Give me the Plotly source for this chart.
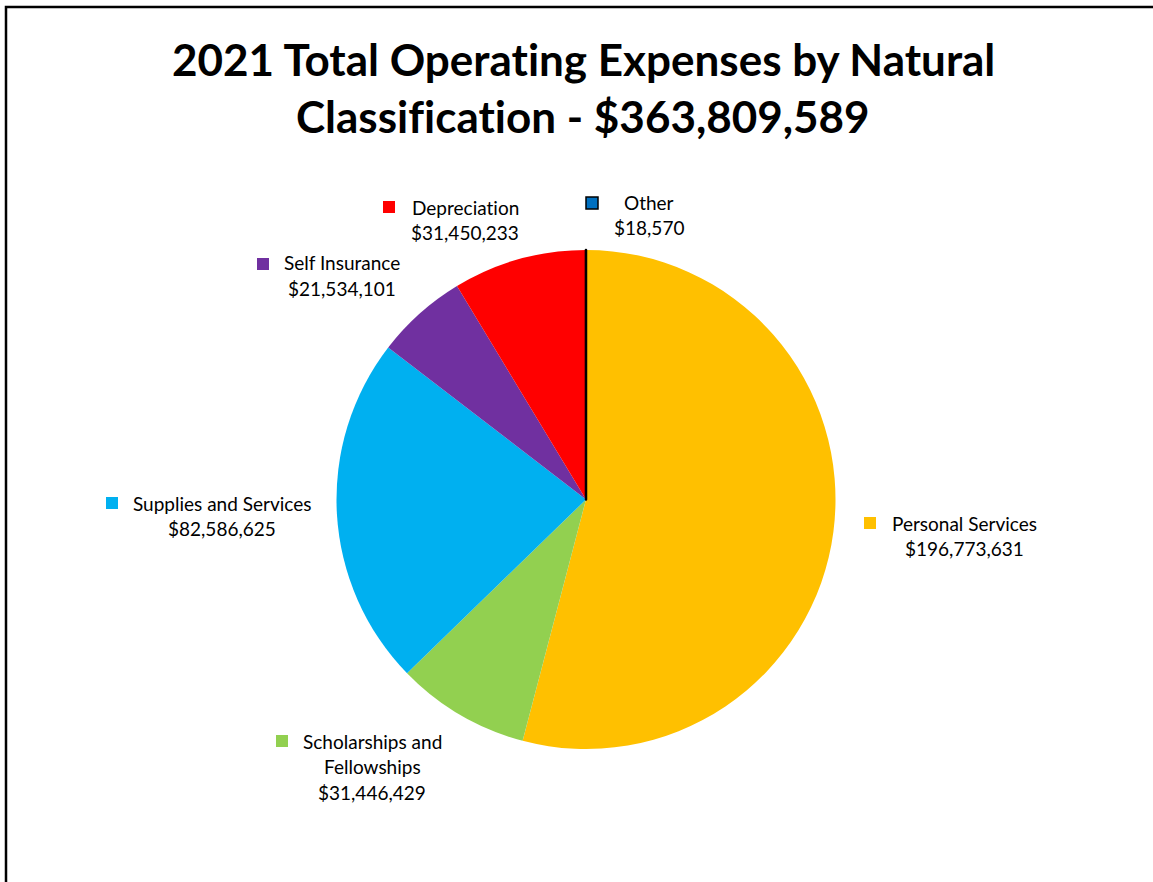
import plotly.graph_objects as go

categories = ["Personal Services", "Scholarships and Fellowships", "Supplies and Services",
              "Self Insurance", "Depreciation", "Other"]
values = [196773631, 31446429, 82586625, 21534101, 31450233, 18570]
colors = ["#FFC000", "#92D050", "#00B0F0", "#7030A0", "#FF0000", "#0070C0"]
label_lines = [["Personal Services"], ["Scholarships and", "Fellowships"], ["Supplies and Services"],
               ["Self Insurance"], ["Depreciation"], ["Other"]]
title_lines = ["2021 Total Operating Expenses by Natural", "Classification - $363,809,589"]

W, H = 1153, 882
def px(x): return x / W
def py(y): return 1 - y / H

FONT = "Lato"
ZWNJ = "\u200c"
def noliga(s):
    # keep "ti" / "fi" from forming ligatures
    return s.replace("ti", "t" + ZWNJ + "i").replace("fi", "f" + ZWNJ + "i")

fig = go.Figure(go.Pie(
    labels=categories, values=values, sort=False, direction="clockwise", rotation=0,
    marker=dict(colors=colors,
                line=dict(color=["rgba(0,0,0,0)"] * 5 + ["#000000"], width=[0, 0, 0, 0, 0, 2.5])),
    textinfo="none", hoverinfo="label+value+percent", showlegend=False,
    domain=dict(x=[px(336), px(836)], y=[py(749), py(250)]),
))

# label layout: (key center x, key center y, text center x, first line center y)
label_pos = [
    (870, 523, 964, 523),
    (282, 741, 372, 741),
    (112, 503, 222, 503),
    (263, 264, 342, 263),
    (389, 207, 465, 207),
    (592, 203, 649, 202),
]
LINE = 25.5
annotations = []
shapes = []
for i, (name, val) in enumerate(zip(categories, values)):
    kx, ky, tx, ty = label_pos[i]
    lines = label_lines[i] + ["${:,}".format(val)]
    for j, ln in enumerate(lines):
        annotations.append(dict(x=px(tx), y=py(ty + j * LINE), xref="paper", yref="paper",
                                text=noliga(ln), showarrow=False, xanchor="center", yanchor="middle",
                                font=dict(family=FONT, size=19, color="#000000")))
    s = 6
    shapes.append(dict(type="rect", xref="paper", yref="paper",
                       x0=px(kx - s), x1=px(kx + s), y0=py(ky + s), y1=py(ky - s),
                       fillcolor=colors[i],
                       line=dict(color="#000000" if name == "Other" else colors[i],
                                 width=1.5 if name == "Other" else 0)))

for j, t in enumerate(title_lines):
    annotations.append(dict(x=px(583), y=py(59 + j * 57), xref="paper", yref="paper",
                            text="<b>" + noliga(t) + "</b>", showarrow=False, xanchor="center",
                            yanchor="middle",
                            font=dict(family=FONT, size=44, color="#000000")))

# outer frame
shapes.append(dict(type="rect", xref="paper", yref="paper", x0=px(6), y0=py(H + 20), x1=px(W + 20), y1=py(7),
                   line=dict(color="#000000", width=2.5), fillcolor="rgba(0,0,0,0)"))

fig.update_layout(width=W, height=H, autosize=False,
                  margin=dict(l=0, r=0, t=0, b=0),
                  paper_bgcolor="#FFFFFF", plot_bgcolor="#FFFFFF",
                  annotations=annotations, shapes=shapes)

fig.write_html("out.html", config={"displayModeBar": False},
               post_script="document.body.style.margin='0';document.body.style.overflow='hidden';")
